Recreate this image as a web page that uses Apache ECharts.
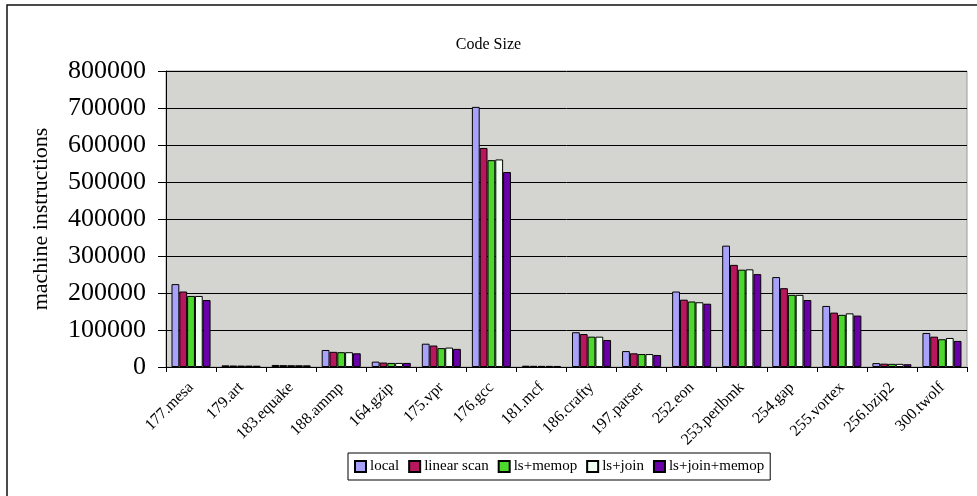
<!DOCTYPE html>
<html>
<head>
<meta charset="utf-8">
<script src="https://cdn.jsdelivr.net/npm/echarts@6/dist/echarts.min.js"></script>
<style>
html,body{margin:0;padding:0;background:#fff;}
#chart{width:977px;height:496px;}
</style>
</head>
<body>
<div id="chart"></div>
<script>
var categories = ['177.mesa','179.art','183.equake','188.ammp','164.gzip','175.vpr','176.gcc','181.mcf','186.crafty','197.parser','252.eon','253.perlbmk','254.gap','255.vortex','256.bzip2','300.twolf'];
var seriesNames = ['local','linear scan','ls+memop','ls+join','ls+join+memop'];
var local        = [224000, 4500, 5500, 46000, 14500, 63000, 703000, 3500, 94000, 43000, 204000, 328000, 243000, 165000, 10500, 92000];
var linearScan   = [204000, 4000, 5000, 41000, 12000, 58000, 592000, 3200, 89000, 37000, 182000, 276000, 213000, 147000,  9000, 82000];
var lsMemop      = [192000, 3800, 4800, 40000, 11000, 51000, 559000, 3000, 82000, 35000, 177000, 263000, 195000, 141000,  8500, 75000];
var lsJoin       = [192000, 3800, 4800, 40000, 11000, 52500, 561000, 3000, 82000, 35000, 175000, 264000, 195000, 145000,  8500, 78500];
var lsJoinMemop  = [181000, 3500, 4500, 37000, 11000, 49000, 527000, 2800, 73000, 32500, 171000, 251000, 181000, 139000,  7500, 70500];
var yTicks = [0,100000,200000,300000,400000,500000,600000,700000,800000];

var colors = ['#A8A2FA','#B8175E','#4CD82C','#F0FFF0','#6A00A8'];
var seriesData = [local, linearScan, lsMemop, lsJoin, lsJoinMemop];
var font = '"Liberation Serif","Times New Roman",serif';

var chart = echarts.init(document.getElementById('chart'));
chart.setOption({
  animation: false,
  backgroundColor: '#fff',
  title: {
    text: 'Code Size', left: 'center', top: 32,
    textStyle: {fontFamily: font, fontSize: 16, fontWeight: 'normal', color: '#000'}
  },
  graphic: [{
    type: 'rect', shape: {x: 7, y: 5, width: 985, height: 510},
    style: {fill: 'none', stroke: '#111', lineWidth: 1.5}, silent: true
  }],
  legend: {
    data: seriesNames, left: 348, top: 453,
    orient: 'horizontal', icon: 'rect', itemWidth: 11, itemHeight: 11, itemGap: 9,
    padding: [6, 6, 6, 6], borderColor: '#000', borderWidth: 1,
    textStyle: {fontFamily: font, fontSize: 15, color: '#000', padding: [0,0,0,-1]}
  },
  grid: {
    left: 166, right: 10, top: 71, bottom: 129,
    show: true, backgroundColor: '#D4D5D0', borderColor: '#9a9a9a', borderWidth: 1
  },
  xAxis: {
    type: 'category', data: categories,
    axisLine: {lineStyle: {color: '#000', width: 1}},
    axisTick: {show: true, alignWithLabel: false, length: 5, lineStyle: {color: '#000'}},
    axisLabel: {rotate: 45, margin: 18, interval: 0, fontFamily: font, fontSize: 16, color: '#000'}
  },
  yAxis: {
    type: 'value', min: 0, max: 800000, interval: 100000,
    name: 'machine instructions', nameLocation: 'middle', nameGap: 114, nameRotate: 90,
    nameTextStyle: {fontFamily: font, fontSize: 22, color: '#000'},
    axisLine: {show: true, lineStyle: {color: '#000', width: 1}},
    axisTick: {show: true, inside: false, length: 8, lineStyle: {color: '#000'}},
    axisLabel: {fontFamily: font, fontSize: 26, color: '#000', margin: 20,
      formatter: function (v) { return yTicks.indexOf(v) >= 0 ? String(v) : ''; }},
    splitLine: {show: true, lineStyle: {color: '#000', width: 1}}
  },
  series: seriesNames.map(function (n, i) {
    return {
      name: n, type: 'bar', data: seriesData[i],
      barGap: '0%', barCategoryGap: '22%',
      itemStyle: {color: colors[i], borderColor: '#000', borderWidth: 1}
    };
  })
});
</script>
</body>
</html>
